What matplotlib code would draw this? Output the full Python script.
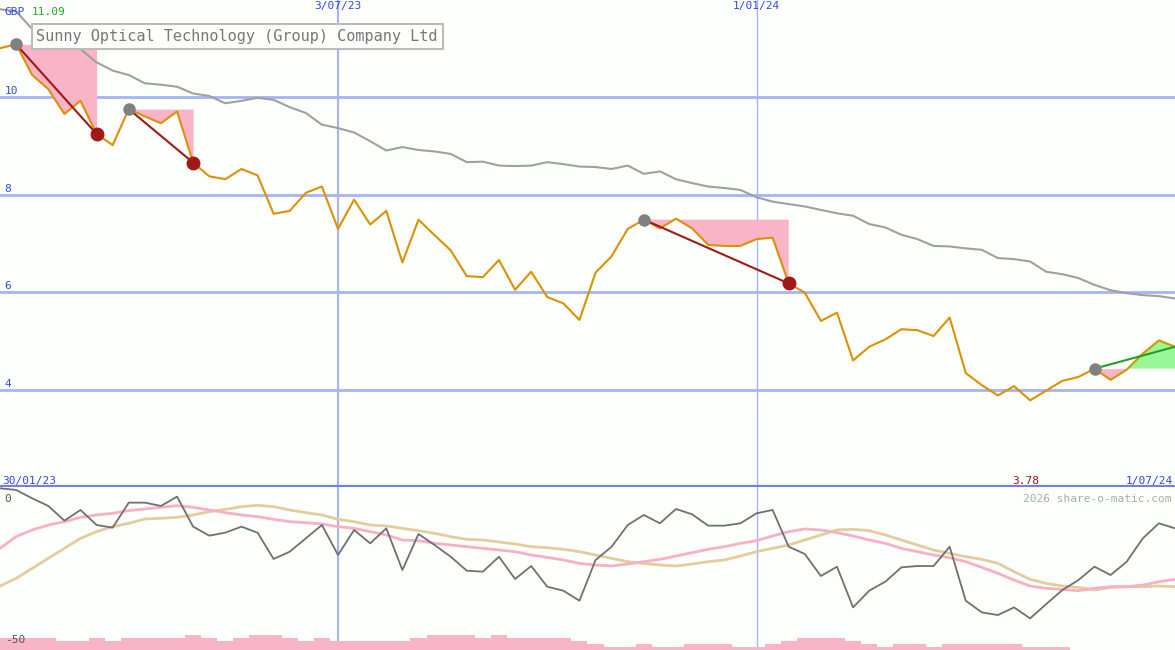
import matplotlib
matplotlib.use("Agg")
import matplotlib.pyplot as plt
import numpy as np
import pandas as pd

dates = pd.date_range("2023-02-06", periods=74, freq="7D")
price = [11.01, 11.09, 10.46, 10.17, 9.66, 9.93, 9.25, 9.02, 9.76, 9.61, 9.47, 9.71, 8.66, 8.38, 8.32, 8.53,
         8.40, 7.61, 7.67, 8.04, 8.17, 7.30, 7.90, 7.39, 7.67, 6.61, 7.49, 7.17, 6.86, 6.33, 6.31, 6.66,
         6.05, 6.42, 5.90, 5.77, 5.43, 6.40, 6.74, 7.30, 7.49, 7.31, 7.51, 7.31, 6.97, 6.95, 6.95, 7.09,
         7.12, 6.18, 5.99, 5.41, 5.58, 4.60, 4.88, 5.03, 5.24, 5.22, 5.10, 5.48, 4.34, 4.09, 3.88, 4.07,
         3.78, 3.98, 4.18, 4.26, 4.43, 4.20, 4.41, 4.74, 5.01, 4.88]
ma = [11.81, 11.77, 11.40, 11.30, 11.13, 10.99, 10.72, 10.55, 10.46, 10.29, 10.26, 10.22, 10.08, 10.03, 9.88, 9.93,
      9.99, 9.95, 9.80, 9.68, 9.44, 9.37, 9.28, 9.10, 8.91, 8.98, 8.92, 8.89, 8.84, 8.67, 8.68, 8.60,
      8.59, 8.60, 8.67, 8.63, 8.58, 8.57, 8.53, 8.60, 8.43, 8.48, 8.32, 8.24, 8.17, 8.14, 8.10, 7.95,
      7.86, 7.81, 7.76, 7.69, 7.62, 7.57, 7.40, 7.33, 7.18, 7.09, 6.95, 6.94, 6.90, 6.87, 6.70, 6.68,
      6.63, 6.42, 6.37, 6.29, 6.15, 6.04, 5.98, 5.94, 5.92, 5.87]
trades = [(1, 6), (8, 12), (40, 49), (68, 73)]

osc_px = [25, 30, 55, 78, 122, 90, 135, 143, 68, 68, 78, 50, 140, 167, 158, 140, 158, 237, 215, 175, 135, 225,
          150, 190, 145, 270, 162, 195, 230, 272, 275, 230, 297, 258, 320, 332, 362, 240, 200, 135, 105, 130,
          87, 103, 137, 137, 130, 100, 90, 200, 222, 288, 260, 382, 332, 305, 262, 258, 258, 200, 362, 397,
          405, 382, 415, 372, 330, 300, 260, 285, 245, 175, 130, 145]
pink_px = [205, 170, 150, 135, 125, 112, 105, 100, 92, 87, 82, 77, 82, 90, 98, 105, 110, 118, 125, 128, 132, 140,
           145, 155, 165, 180, 182, 190, 195, 200, 205, 210, 215, 225, 232, 240, 250, 255, 258, 252, 245, 238,
           228, 218, 208, 200, 190, 182, 168, 155, 147, 150, 158, 168, 180, 190, 205, 215, 225, 233, 245, 262,
           280, 300, 318, 325, 328, 332, 325, 320, 320, 315, 305, 298]
tan_px = [318, 295, 265, 235, 205, 175, 155, 140, 130, 117, 115, 112, 105, 95, 88, 80, 76, 80, 90, 98, 105, 118,
          125, 135, 138, 145, 152, 160, 170, 178, 180, 186, 192, 200, 203, 208, 215, 225, 235, 245, 250, 255,
          258, 252, 245, 240, 228, 215, 205, 195, 180, 165, 150, 148, 152, 165, 180, 195, 210, 220, 230, 238,
          250, 275, 298, 310, 318, 322, 330, 322, 320, 320, 318, 320]
vol_top = [473]*4 + [483]*2 + [473, 483] + [473]*4 + [465, 473, 483, 473, 465, 465, 473, 483, 473] + [483]*5 + \
          [473] + [465]*3 + [473, 465] + [473]*4 + [483, 492, 500, 500, 492, 500, 500, 492, 492, 492, 500, 500, 492,
          483, 473, 473, 473, 483, 492, 500, 492, 492, 500] + [492]*5 + [500]*3 + [510]*7

def conv(p):
    return [-(v / 3 - 8) / 3.2 for v in p]
osc, pinkl, tanl = conv(osc_px), conv(pink_px), conv(tan_px)
vol = [(510 - t) / 3 / 3.2 for t in vol_top]

GRID = "#a4b4f4"
BLUE = "#3344ee"
mono = "DejaVu Sans Mono"

fig = plt.figure(figsize=(11.75, 6.5), dpi=100)
fig.patch.set_facecolor("#fdfffd")
ax = fig.add_axes([0, 163/650, 1, 487/650])
ax2 = fig.add_axes([0, 0, 1, 163/650])
x0, x1 = pd.Timestamp("2023-02-06"), pd.Timestamp("2024-07-01")
for a in (ax, ax2):
    a.set_facecolor("#fdfffd")
    a.set_xlim(x0, x1)
    for s in a.spines.values():
        s.set_visible(False)
    a.set_xticks([]); a.set_yticks([])
    a.axvline(pd.Timestamp("2023-07-03"), color=GRID, lw=1.5, zorder=1)
    a.axvline(pd.Timestamp("2024-01-01"), color=GRID, lw=1, zorder=1)

ax.set_ylim(2.0, 12.0)
for g in [4, 6, 8, 10]:
    ax.axhline(g, color=GRID, lw=2, zorder=1)
    ax.text(0.004, g + 0.06, str(g), transform=ax.get_yaxis_transform(), color=BLUE, fontsize=8, family=mono)
ax.axhline(2.0, color="#7080e8", lw=3, zorder=5, clip_on=False)

pr = np.array(price)
for s, e in trades:
    lvl = price[s]
    seg = slice(s, e + 1)
    d = dates[seg]; p = pr[seg]
    ax.fill_between(d, lvl, p, where=p <= lvl, interpolate=True, color="#f9b4c8", lw=0, zorder=2)
    ax.fill_between(d, lvl, p, where=p >= lvl, interpolate=True, color="#98f898", lw=0, zorder=2)

ax.plot(dates, ma, color="#a0a0a0", lw=1.5, zorder=3)
ax.plot(dates, price, color="#dd9000", lw=1.5, zorder=4)
for k, (s, e) in enumerate(trades):
    col = "#22a022" if k == len(trades) - 1 else "#a01818"
    ax.plot([dates[s], dates[e]], [price[s], price[e]], color=col, lw=1.5, zorder=5)
    ax.plot(dates[s], price[s], "o", color="#808080", ms=8, zorder=6)
    if k < len(trades) - 1:
        ax.plot(dates[e], price[e], "o", color="#a01818", ms=9, zorder=6)

ax.text(0.004, 0.985, "GBP", transform=ax.transAxes, color=BLUE, fontsize=8, family=mono, va="top")
ax.text(0.027, 0.985, "11.09", transform=ax.transAxes, color="#22aa22", fontsize=8, family=mono, va="top")
ax.text(pd.Timestamp("2023-07-03"), 0.997, "3/07/23", transform=ax.get_xaxis_transform(), color=BLUE,
        fontsize=8, family=mono, va="top", ha="center")
ax.text(pd.Timestamp("2024-01-01"), 0.997, "1/01/24", transform=ax.get_xaxis_transform(), color=BLUE,
        fontsize=8, family=mono, va="top", ha="center")
ax.text(0.031, 0.925, "Sunny Optical Technology (Group) Company Ltd", transform=ax.transAxes, color="#777777",
        fontsize=11, family=mono, va="center",
        bbox=dict(boxstyle="square,pad=0.3", fc="#fdfffd", ec="#bbbbbb", lw=1.5), zorder=7)
ax.text(0.002, 0.003, "30/01/23", transform=ax.transAxes, color=BLUE, fontsize=8, family=mono, va="bottom")
ax.text(0.998, 0.003, "1/07/24", transform=ax.transAxes, color=BLUE, fontsize=8, family=mono, va="bottom", ha="right")
ax.text(0.873, 0.003, "3.78", transform=ax.transAxes, color="#991111", fontsize=8, family=mono, va="bottom", ha="center")

ax2.set_ylim(-50.6, 0.3)
ax2.bar(dates, vol, bottom=-50.6, width=7, align="center", color="#f9b4c8", lw=0, zorder=2)
ax2.plot(dates, tanl, color="#e4cc9c", lw=2, zorder=3)
ax2.plot(dates, pinkl, color="#f8b0c4", lw=2, zorder=3)
ax2.plot(dates, osc, color="#707070", lw=1.3, zorder=4)
ax2.text(0.004, 0.955, "0", transform=ax2.transAxes, color="#555555", fontsize=8, family=mono, va="top")
ax2.text(0.004, 0.03, "-50", transform=ax2.transAxes, color="#555555", fontsize=8, family=mono, va="bottom")
ax2.text(0.997, 0.955, "2026 share-o-matic.com", transform=ax2.transAxes, color="#aaaaaa", fontsize=8,
         family=mono, va="top", ha="right")

fig.savefig("out.png", dpi=100, facecolor=fig.get_facecolor())
